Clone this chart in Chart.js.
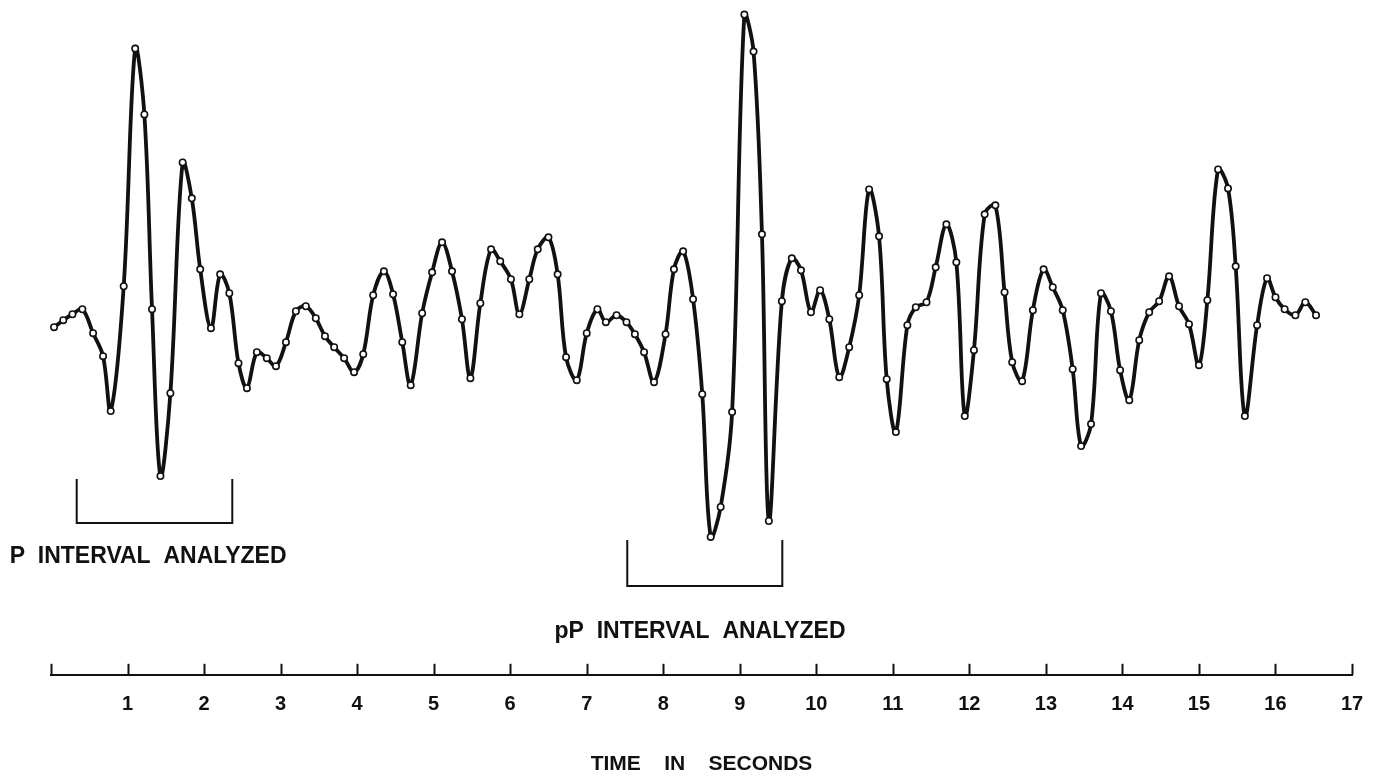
<!DOCTYPE html>
<html>
<head>
<meta charset="utf-8">
<script src="https://cdn.jsdelivr.net/npm/chart.js@4.4.1/dist/chart.umd.min.js"></script>
<style>
  html, body { margin: 0; padding: 0; background: #ffffff; }
  #wrap { width: 1383px; height: 783px; }
</style>
</head>
<body>
<div id="wrap"><canvas id="c" width="1383" height="783"></canvas></div>
<script>
// Time of each plotted sample (seconds)
const times = [
  0.04, 0.16, 0.28, 0.41, 0.55, 0.68, 0.78, 0.95, 1.10, 1.22,
  1.32, 1.43, 1.56, 1.72, 1.84, 1.95, 2.09, 2.21, 2.33, 2.45,
  2.56, 2.69, 2.82, 2.94, 3.07, 3.20, 3.33, 3.46, 3.58, 3.70,
  3.83, 3.96, 4.08, 4.21, 4.35, 4.47, 4.59, 4.70, 4.85, 4.98,
  5.11, 5.24, 5.37, 5.48, 5.61, 5.75, 5.87, 6.01, 6.12, 6.25,
  6.36, 6.50, 6.62, 6.73, 6.87, 7.00, 7.14, 7.25, 7.39, 7.52,
  7.63, 7.75, 7.88, 8.03, 8.14, 8.26, 8.39, 8.51, 8.62, 8.75,
  8.90, 9.06, 9.18, 9.29, 9.38, 9.55, 9.68, 9.80, 9.93, 10.05,
  10.17, 10.30, 10.43, 10.56, 10.69, 10.82, 10.92, 11.04, 11.19, 11.30,
  11.44, 11.56, 11.70, 11.83, 11.94, 12.06, 12.20, 12.34, 12.46, 12.56,
  12.69, 12.83, 12.97, 13.09, 13.22, 13.35, 13.46, 13.59, 13.72, 13.85,
  13.97, 14.09, 14.22, 14.35, 14.48, 14.61, 14.74, 14.87, 15.00, 15.11,
  15.25, 15.38, 15.48, 15.60, 15.76, 15.89, 16.00, 16.12, 16.26, 16.39,
  16.53
];
// Trace amplitude at each sample (arbitrary units)
const amplitude = [
  -0.2, 0.5, 1.1, 1.6, -0.8, -3.1, -8.6, 3.9, 27.7, 21.1,
  1.6, -15.1, -6.8, 16.3, 12.7, 5.6, -0.3, 5.1, 3.2, -3.8,
  -6.3, -2.7, -3.3, -4.1, -1.7, 1.4, 1.9, 0.7, -1.1, -2.2,
  -3.3, -4.7, -2.9, 3.0, 5.4, 3.1, -1.7, -6.0, 1.2, 5.3,
  8.3, 5.4, 0.6, -5.3, 2.2, 7.6, 6.4, 4.6, 1.1, 4.6,
  7.6, 8.8, 5.1, -3.2, -5.5, -0.8, 1.6, 0.3, 1.0, 0.3,
  -0.9, -2.7, -5.7, -0.9, 5.6, 7.4, 2.6, -6.9, -21.2, -18.2,
  -8.7, 31.1, 27.4, 9.1, -19.6, 2.4, 6.7, 5.5, 1.3, 3.5,
  0.6, -5.2, -2.2, 3.0, 13.6, 8.9, -5.4, -10.7, 0.0, 1.8,
  2.3, 5.8, 10.1, 6.3, -9.1, -2.5, 11.1, 12.0, 3.3, -3.7,
  -5.6, 1.5, 5.6, 3.8, 1.5, -4.4, -12.1, -9.9, 3.2, 1.4,
  -4.5, -7.5, -1.5, 1.3, 2.4, 4.9, 1.9, 0.1, -4.0, 2.5,
  15.6, 13.7, 5.9, -9.1, 0.0, 4.7, 2.8, 1.6, 1.0, 2.3,
  1.0
];
// Axis tick labels (seconds 0..17)
const tickLabels = ['', '1', '2', '3', '4', '5', '6', '7', '8', '9', '10', '11', '12', '13', '14', '15', '16', '17'];
// Analyzed intervals: [start, end] in seconds, bracket top / bottom levels
const pInterval = [0.336, 2.369];
const pBracketLevels = [-15.4, -19.8];
const ppInterval = [7.530, 9.556];
const ppBracketLevels = [-21.5, -26.1];
// Annotation labels: [text, time of left edge, level]
const pLabel = ['P  INTERVAL  ANALYZED', -0.54, -23.2];
const ppLabel = ['pP  INTERVAL  ANALYZED', 6.58, -30.7];
const axisTitle = 'TIME    IN    SECONDS';

const trace = times.map((t, i) => ({ x: t, y: amplitude[i] }));
function bracket(iv, lv) {
  return [
    { x: iv[0], y: lv[0] }, { x: iv[0], y: lv[1] },
    { x: iv[1], y: lv[1] }, { x: iv[1], y: lv[0] }
  ];
}

const FONT = '"Liberation Sans", Arial, sans-serif';

const annotationPlugin = {
  id: 'annot',
  afterDatasetsDraw(chart) {
    const ctx = chart.ctx;
    const xs = chart.scales.x, ys = chart.scales.y;
    ctx.save();
    // upward tick marks on the time axis
    ctx.strokeStyle = '#111';
    ctx.lineWidth = 2;
    const yb = chart.chartArea.bottom;
    for (let v = 0; v < tickLabels.length; v++) {
      const px = Math.round(xs.getPixelForValue(v)) + 0.5;
      ctx.beginPath();
      ctx.moveTo(px, yb);
      ctx.lineTo(px, yb - 11);
      ctx.stroke();
    }
    // interval labels
    ctx.fillStyle = '#111';
    ctx.font = 'bold 23px ' + FONT;
    ctx.textAlign = 'left';
    ctx.textBaseline = 'middle';
    [pLabel, ppLabel].forEach(l => {
      ctx.fillText(l[0], xs.getPixelForValue(l[1]), ys.getPixelForValue(l[2]));
    });
    ctx.restore();
  }
};

new Chart(document.getElementById('c'), {
  type: 'line',
  data: {
    datasets: [
      {
        data: trace,
        borderColor: '#111',
        borderWidth: 3.8,
        tension: 0.35,
        pointRadius: 3.2,
        pointBackgroundColor: '#ffffff',
        pointBorderColor: '#111',
        pointBorderWidth: 1.6,
        clip: false
      },
      {
        data: bracket(pInterval, pBracketLevels),
        borderColor: '#111', borderWidth: 2, tension: 0, pointRadius: 0, clip: false
      },
      {
        data: bracket(ppInterval, ppBracketLevels),
        borderColor: '#111', borderWidth: 2, tension: 0, pointRadius: 0, clip: false
      }
    ]
  },
  options: {
    responsive: false,
    animation: false,
    layout: { padding: { left: 51, right: 31, top: 0, bottom: 6 } },
    plugins: { legend: { display: false }, tooltip: { enabled: false } },
    scales: {
      x: {
        type: 'linear',
        min: 0,
        max: 17,
        border: { display: true, color: '#111', width: 2 },
        grid: { display: true, drawOnChartArea: false, drawTicks: false },
        ticks: {
          stepSize: 1,
          autoSkip: false,
          maxRotation: 0,
          padding: 18,
          color: '#111',
          font: { family: FONT, size: 20, weight: 'bold' },
          callback: (v) => tickLabels[v] !== undefined ? tickLabels[v] : ''
        },
        title: {
          display: true,
          text: axisTitle,
          color: '#111',
          font: { family: FONT, size: 21, weight: 'bold' },
          padding: { top: 17, bottom: 0 }
        }
      },
      y: {
        display: false,
        min: -35,
        max: 32
      }
    }
  },
  plugins: [annotationPlugin]
});
</script>
</body>
</html>
